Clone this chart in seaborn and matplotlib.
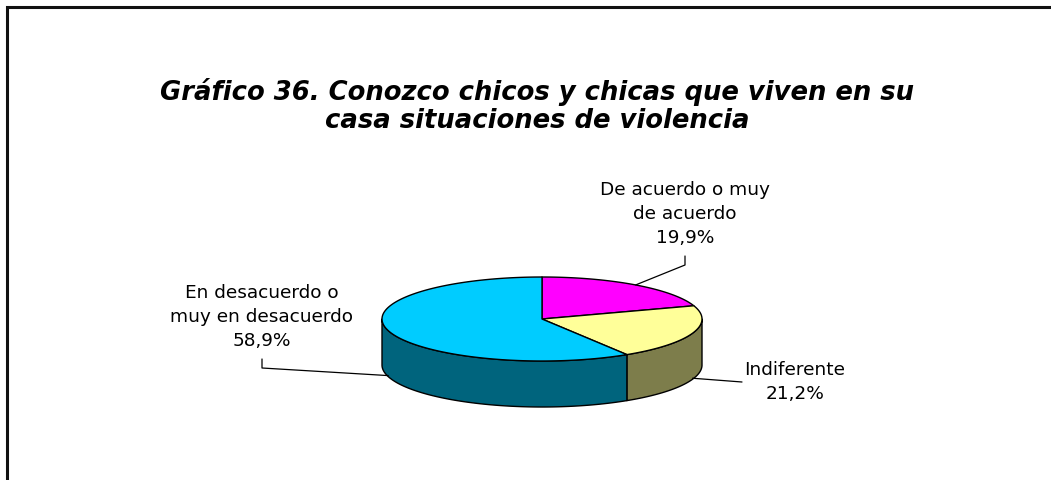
import numpy as np
import matplotlib
matplotlib.use("Agg")
import matplotlib.pyplot as plt
from matplotlib.patches import Polygon
import seaborn as sns

# Survey answers, clockwise from 12 o'clock
categories = ["De acuerdo o muy\nde acuerdo", "Indiferente", "En desacuerdo o\nmuy en desacuerdo"]
percentages = [19.9, 21.2, 58.9]
top_colors = ["#FF00FF", "#FFFF99", "#00CCFF"]

title = "Gráfico 36. Conozco chicos y chicas que viven en su\ncasa situaciones de violencia"

sns.set_theme(style="white")
plt.rcParams["font.family"] = ["DejaVu Sans"]

W, H, DPI = 1051, 480, 100
fig = plt.figure(figsize=(W / DPI, H / DPI), dpi=DPI)
ax = fig.add_axes([0, 0, 1, 1])
ax.set_xlim(0, W)
ax.set_ylim(H, 0)
ax.axis("off")

# outer frame of the chart area (runs off the right and bottom edges)
ax.plot([7, 7, W + 5], [H + 5, 7, 7], color="#111111", lw=2.2, solid_joinstyle="miter", zorder=1)

# title
ax.text(537, 106, title, ha="center", va="center", fontsize=18.6,
        fontweight="bold", fontstyle="italic", linespacing=1.12, color="black")

# 3D pie geometry
cx, cy, rx, ry, depth = 542, 319, 160, 42, 46
side_colors = [tuple(c * 0.49 for c in matplotlib.colors.to_rgb(col)) for col in top_colors]

vals = np.array(percentages)
fr = vals / vals.sum()
starts = 90 - 360 * np.concatenate([[0], np.cumsum(fr)[:-1]])
ends = starts - 360 * fr


def ellipse_pts(t1, t2, dy=0.0, n=200):
    t = np.radians(np.linspace(t1, t2, n))
    return np.column_stack([cx + rx * np.cos(t), cy - ry * np.sin(t) + dy])


# visible side walls (front half: angles in (-180, 0))
for s, e, sc in zip(starts, ends, side_colors):
    lo, hi = max(e, -180.0), min(s, 0.0)
    if hi > lo:
        top = ellipse_pts(hi, lo)
        bot = ellipse_pts(lo, hi, dy=depth)
        ax.add_patch(Polygon(np.vstack([top, bot]), closed=True, fc=sc,
                             ec="black", lw=1.0, joinstyle="round", zorder=2))

# top faces
for s, e, tc in zip(starts, ends, top_colors):
    arc = ellipse_pts(s, e)
    ax.add_patch(Polygon(np.vstack([[cx, cy], arc]), closed=True, fc=tc,
                         ec="black", lw=1.0, joinstyle="round", zorder=3))

# labels with leader lines
label_pos = [(685, 214), (795, 382), (262, 317)]
for cat, pct, s, e, (lx, ly) in zip(categories, percentages, starts, ends, label_pos):
    mid = (s + e) / 2
    on_side = np.sin(np.radians(mid)) < 0
    ax_ = cx + rx * np.cos(np.radians(mid))
    ay_ = cy - ry * np.sin(np.radians(mid)) + (depth - 1 if on_side else 0)
    txt = f"{cat}\n{pct:.1f}".replace(".", ",") + "%"
    ax.text(lx, ly, txt, ha="center", va="center", fontsize=13.3,
            linespacing=1.42, color="black", zorder=5)
    if cat.startswith("Indif"):
        ax.plot([ax_, 742], [ay_, 382], color="black", lw=0.9, zorder=4)
    else:
        top_y = ly + 42
        ax.plot([lx, lx, ax_], [top_y, top_y + 9, ay_], color="black", lw=0.9, zorder=4)

fig.savefig("out.png", dpi=DPI, facecolor="white")
